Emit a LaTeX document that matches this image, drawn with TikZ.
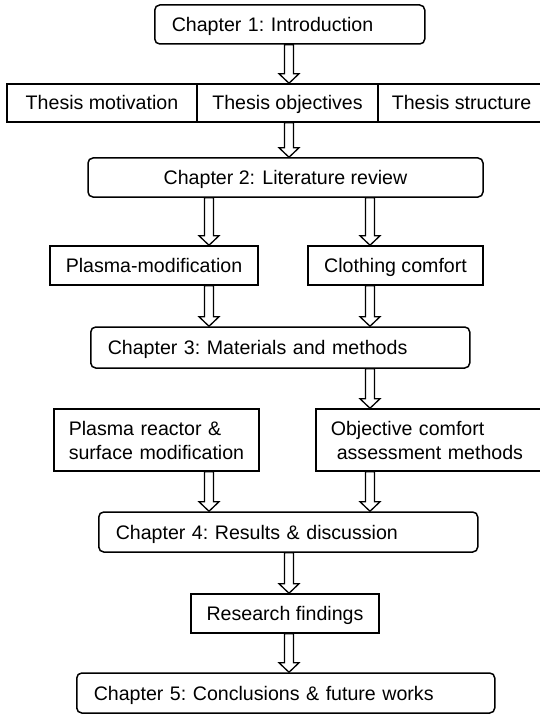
\documentclass[tikz,border=0pt]{standalone}
\usepackage{fontspec}
\setmainfont{Liberation Sans}
\usetikzlibrary{calc}
\tikzset{
  base/.style={draw, line width=1.5pt, font=\fontsize{19.6}{24}\selectfont, inner sep=0pt},
  one/.style={text height=16pt, text depth=2pt},
  sq/.style={base},
  rbox/.style={base, rounded corners=5pt},
  lefttext/.style={anchor=west, align=left},
  barrow/.style={draw, line width=1.3pt, line join=miter,
    to path={let \p1=(\tikztostart), \p2=(\tikztotarget) in
      (\x1-4.5pt,\y1) -- (\x1-4.5pt,\y2+9.5pt) -- (\x1-10pt,\y2+9.5pt) -- (\x1,\y2)
      -- (\x1+10pt,\y2+9.5pt) -- (\x1+4.5pt,\y2+9.5pt) -- (\x1+4.5pt,\y1) -- cycle}}
}
\begin{document}
\begin{tikzpicture}[x=1pt,y=-1pt]
\useasboundingbox (0,0) rectangle (540,714);
\coordinate (colL) at (209,0);
\coordinate (colC) at (289,0);
\coordinate (colR) at (370,0);

\node[rbox, one, lefttext, text width=236pt, inner xsep=17pt, minimum height=39pt] (ch1) at (154,24.5) {Chapter~1:~Introduction};

\node[sq, one, minimum width=190pt, minimum height=38pt] (tm) at (102,103) {Thesis motivation};
\node[sq, one, minimum width=181pt, minimum height=38pt] (to) at (287.5,103) {Thesis objectives};
\node[sq, one, minimum width=167pt, minimum height=38pt] (ts) at (461.5,103) {Thesis structure};

\node[rbox, one, minimum width=395pt, minimum height=39pt] (ch2) at (285.5,177.5) {Chapter 2: Literature review};

\node[sq, one, minimum width=208pt, minimum height=39pt] (pm) at (154,265.5) {Plasma-modification};
\node[sq, one, minimum width=175pt, minimum height=39pt] (cc) at (395.5,265.5) {Clothing comfort};

\node[rbox, one, lefttext, text width=345pt, inner xsep=17pt, minimum height=41pt] (ch3) at (90,347.5) {Chapter~3:~Materials~and~methods};

\node[sq, lefttext, text width=175pt, inner xsep=15pt, minimum height=62pt] (pr) at (53,440) {\mbox{Plasma reactor \&}\\\mbox{surface modification}};
\node[sq, lefttext, text width=203pt, inner xsep=15pt, minimum height=62pt] (oc) at (315,440) {\mbox{Objective comfort}\\\mbox{\hspace*{6pt}assessment methods}};

\node[rbox, one, lefttext, text width=345pt, inner xsep=17pt, minimum height=40pt] (ch4) at (98,532) {Chapter~4:~Results~\&~discussion};

\node[sq, one, minimum width=188pt, minimum height=39pt] (rf) at (285,613.5) {Research findings};

\node[rbox, one, lefttext, text width=384pt, inner xsep=17pt, minimum height=40pt] (ch5) at (76,693) {Chapter~5:~Conclusions~\&~future~works};

\draw[barrow] (ch1.south -| colC) to (to.north -| colC);
\draw[barrow] (to.south -| colC) to (ch2.north -| colC);
\draw[barrow] (ch2.south -| colL) to (pm.north -| colL);
\draw[barrow] (ch2.south -| colR) to (cc.north -| colR);
\draw[barrow] (pm.south -| colL) to (ch3.north -| colL);
\draw[barrow] (cc.south -| colR) to (ch3.north -| colR);
\draw[barrow] (ch3.south -| colR) to (oc.north -| colR);
\draw[barrow] (pr.south -| colL) to (ch4.north -| colL);
\draw[barrow] (oc.south -| colR) to (ch4.north -| colR);
\draw[barrow] (ch4.south -| colC) to (rf.north -| colC);
\draw[barrow] (rf.south -| colC) to (ch5.north -| colC);
\end{tikzpicture}
\end{document}
